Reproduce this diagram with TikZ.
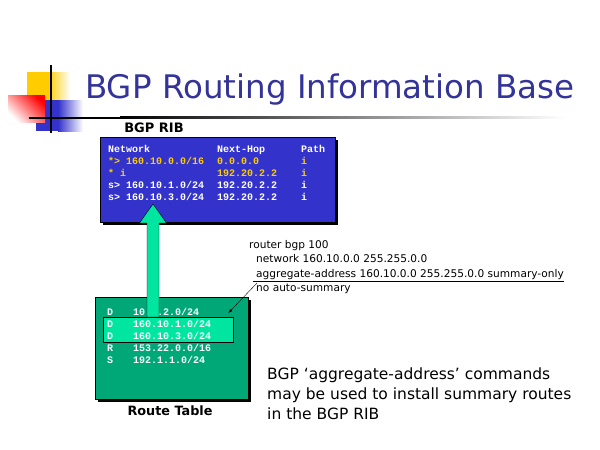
\documentclass[tikz,border=0pt]{standalone}
\usepackage{fontspec}
\setmainfont{DejaVu Sans}
\setmonofont{Liberation Mono}
\usetikzlibrary{positioning,calc,shadows}
\definecolor{titleblue}{HTML}{333399}
\definecolor{ribblue}{HTML}{3333CC}
\definecolor{rtgreen}{HTML}{00A878}
\definecolor{aqua}{HTML}{00E6A0}
\definecolor{ribyellow}{HTML}{FFCC00}
\begin{document}
\begin{tikzpicture}[x=1pt,y=-1pt,
        ribtxt/.style={anchor=base west,inner sep=0pt,white,font=\ttfamily\bfseries\fontsize{10}{12}\selectfont},
        cfgtxt/.style={anchor=base west,inner sep=0pt,font=\fontsize{10.6}{12}\selectfont},
        boxshadow/.style={drop shadow={shadow xshift=3pt,shadow yshift=-3pt,opacity=1,fill=black}}]
    \useasboundingbox (0,0) rectangle (600,450);
    % corner logo
    \fill[ribyellow] (27,72) rectangle (48,100);
    \shade[left color=ribyellow,right color=white] (48,72) rectangle (70,100);
    \fill[ribblue] (36,100) rectangle (58,131);
    \shade[left color=ribblue,right color=white] (58,100) rectangle (83,131);
    \shade[shading=axis,top color=red,bottom color=white,shading angle=-45] (8,95) rectangle (45,122);
    \draw[line width=1.7] (51,65) -- (51,133);
    \fill[black] (29,116.5) rectangle (120,118.5);
    \shade[left color=black,right color=white] (120,116.5) rectangle (565,118.5);
    \node[anchor=base west,inner sep=0pt,titleblue,font=\fontsize{32.5}{36}\selectfont] (title) at (85,98) {BGP Routing Information Base};
    % BGP RIB
    \node[font=\bfseries\fontsize{13}{14}\selectfont,anchor=base,inner sep=0pt] (riblabel) at (154,132) {BGP RIB};
    \node[draw=black,fill=ribblue,boxshadow,anchor=north west,minimum width=235,minimum height=85] (rib) at (100,137) {};
    \node[ribtxt] (h1) at (108,152) {Network};
    \node[ribtxt] (h2) at (217,152) {Next-Hop};
    \node[ribtxt] (h3) at (301,152) {Path};
    \node[ribtxt,ribyellow] (r1a) at (108,164) {*> 160.10.0.0/16};
    \node[ribtxt,ribyellow] (r1b) at (217,164) {0.0.0.0};
    \node[ribtxt,ribyellow] (r1c) at (301,164) {i};
    \node[ribtxt,ribyellow] (r2a) at (108,176) {* i};
    \node[ribtxt,ribyellow] (r2b) at (217,176) {192.20.2.2};
    \node[ribtxt,ribyellow] (r2c) at (301,176) {i};
    \node[ribtxt] (r3a) at (108,188) {s> 160.10.1.0/24};
    \node[ribtxt] (r3b) at (217,188) {192.20.2.2};
    \node[ribtxt] (r3c) at (301,188) {i};
    \node[ribtxt] (r4a) at (108,200) {s> 160.10.3.0/24};
    \node[ribtxt] (r4b) at (217,200) {192.20.2.2};
    \node[ribtxt] (r4c) at (301,200) {i};
    % route table
    \node[draw=black,fill=rtgreen,boxshadow,anchor=north west,minimum width=153,minimum height=102] (rt) at (95,297) {};
    \node[font=\bfseries\fontsize{12.8}{14}\selectfont,anchor=base,inner sep=0pt] (rtlabel) at (170,415) {Route Table};
    \node[ribtxt] (t1a) at (107,315) {D};
    \node[ribtxt] (t1b) at (133,315) {10.1.2.0/24};
    \node[draw=black,fill=aqua,anchor=north west,minimum width=130,minimum height=25] (hl) at (103,317) {};
    \node[ribtxt] (t2a) at (107,327) {D};
    \node[ribtxt] (t2b) at (133,327) {160.10.1.0/24};
    \node[ribtxt] (t3a) at (107,339) {D};
    \node[ribtxt] (t3b) at (133,339) {160.10.3.0/24};
    \node[ribtxt] (t4a) at (107,351) {R};
    \node[ribtxt] (t4b) at (133,351) {153.22.0.0/16};
    \node[ribtxt] (t5a) at (107,363) {S};
    \node[ribtxt] (t5b) at (133,363) {192.1.1.0/24};
    % install arrow
    \coordinate (tip) at (153,204);
    \coordinate (tail) at (tip |- hl.north);
    \draw[fill=aqua] ($(tail)+(-6,0)$) -- ($(tail)+(6,0)$) -- ($(tip)+(6,19)$) -- ($(tip)+(13.5,19)$)
        -- (tip) -- ($(tip)+(-13.5,19)$) -- ($(tip)+(-6,19)$) -- cycle;
    % config
    \node[cfgtxt] (cfg1) at (249,248) {router bgp 100};
    \node[cfgtxt] (cfg2) at (256,262) {network 160.10.0.0 255.255.0.0};
    \node[cfgtxt] (cfg3) at (256,277) {aggregate-address 160.10.0.0 255.255.0.0 summary-only};
    \node[cfgtxt] (cfg4) at (256,291) {no auto-summary};
    \draw (253,281) -- (cfg3.south east |- 0,281);
    \coordinate (cfgtail) at (257,283);
    \coordinate (cfghead) at ($(hl.north east)+(-5,-4)$);
    \draw[-latex] (cfgtail) -- (cfghead);
    % note
    \node[anchor=base west,inner sep=0pt,align=left,font=\fontsize{15.5}{20}\selectfont] (note) at (267,419)
        {BGP ‘aggregate-address’ commands\\may be used to install summary routes\\in the BGP RIB};
\end{tikzpicture}
\end{document}
